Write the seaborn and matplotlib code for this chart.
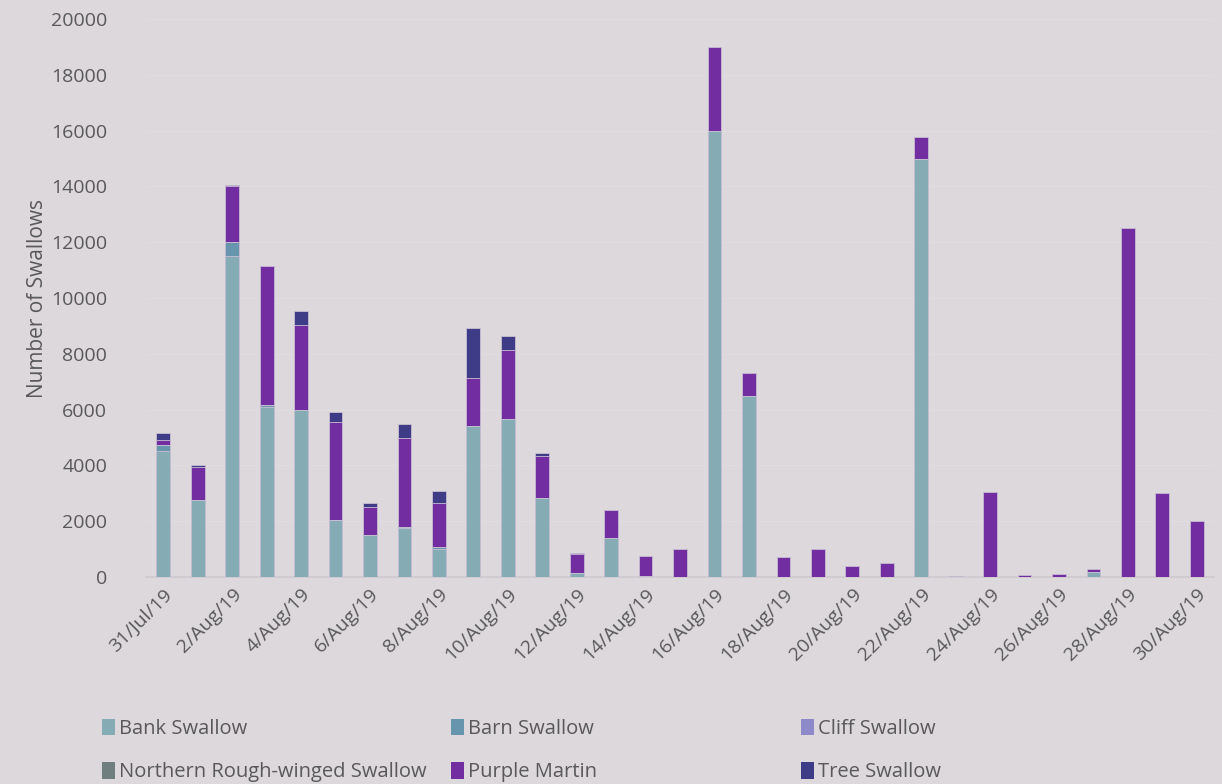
import numpy as np
import pandas as pd
import matplotlib
matplotlib.use("Agg")
import matplotlib.pyplot as plt
import seaborn as sns
from matplotlib.patches import Patch

# dates 31/Jul/19 .. 30/Aug/19
dates = ["31/Jul/19"] + [f"{d}/Aug/19" for d in range(1, 31)]

bank     = [4500, 2750, 11500, 6100, 6000, 2050, 1500, 1750, 1000, 5400, 5650, 2850, 130, 1400, 50, 0,
            16000, 6500, 0, 0, 0, 0, 15000, 20, 0, 0, 0, 190, 0, 0, 0]
barn     = [250, 0, 500, 50, 0, 0, 0, 50, 60, 0, 0, 0, 0, 0, 0, 0,
            0, 0, 0, 0, 0, 0, 0, 0, 0, 0, 0, 0, 0, 0, 0]
cliff    = [0] * 31
northern = [0] * 31
purple   = [150, 1200, 2000, 5000, 3050, 3500, 1000, 3200, 1580, 1750, 2500, 1500, 680, 1000, 720, 1000,
            3000, 800, 700, 1000, 400, 500, 760, 0, 3030, 60, 120, 80, 12500, 3000, 2000]
tree     = [250, 50, 50, 0, 500, 350, 150, 500, 450, 1780, 500, 80, 50, 0, 0, 0,
            0, 0, 0, 0, 0, 0, 0, 0, 0, 0, 0, 0, 0, 0, 0]

species = ["Bank Swallow", "Barn Swallow", "Cliff Swallow",
           "Northern Rough-winged Swallow", "Purple Martin", "Tree Swallow"]
colors = ["#85abb5", "#6795ad", "#8e89c9", "#6f7f7f", "#722ea0", "#3f3c87"]

df = pd.DataFrame({"date": dates, "Bank Swallow": bank, "Barn Swallow": barn,
                   "Cliff Swallow": cliff, "Northern Rough-winged Swallow": northern,
                   "Purple Martin": purple, "Tree Swallow": tree})

bg = "#dcd8dc"
txt = "#595959"
sns.set_theme(style="white")
plt.rcParams["font.family"] = ["Open Sans", "DejaVu Sans"]

fig = plt.figure(figsize=(12.22, 7.84), dpi=100, facecolor=bg)
ax = fig.add_axes([0.1195, 0.264, 0.874, 0.7117])
ax.set_facecolor(bg)

# stacked bars: draw cumulative totals from the top series down
cum = df[species].cumsum(axis=1)
for sp, col in reversed(list(zip(species, colors))):
    sns.barplot(x=df["date"], y=cum[sp], color=col, width=0.4, saturation=1,
                edgecolor="#c9bfd3", linewidth=0.6, ax=ax, zorder=3)

ax.set_ylim(0, 20000)
ax.set_xlim(-0.5, 30.5)
ax.set_yticks(np.arange(0, 20001, 2000))
ax.grid(axis="y", color="#e0dde0", linewidth=1, zorder=0)

ax.set_xticks(range(31))
ax.set_xticklabels([d if i % 2 == 0 else "" for i, d in enumerate(dates)],
                   rotation=45, ha="right", rotation_mode="anchor",
                   fontsize=14, color=txt)
ax.tick_params(axis="x", length=0, pad=6)
ax.set_xticks(np.arange(-0.5, 31, 2), minor=True)
ax.tick_params(axis="x", which="minor", length=5, color="#cfcacf", width=1)
ax.tick_params(axis="y", length=0, labelsize=14, labelcolor=txt, pad=28)

for s in ["top", "right", "left"]:
    ax.spines[s].set_visible(False)
ax.spines["bottom"].set_color("#cfcacf")

ax.set_xlabel("")
ax.set_ylabel("Number of Swallows", fontsize=15, color=txt, labelpad=2)

# legend: three equal-width columns, two rows (Excel style)
handles = [Patch(facecolor=c, edgecolor="none") for c in colors]
col_x = [98 / 1222, 447 / 1222, 797 / 1222]
for j, x0 in enumerate(col_x):
    idx = [j, j + 3]
    fig.legend([handles[i] for i in idx], [species[i] for i in idx],
               loc="lower left", bbox_to_anchor=(x0 - 0.008, -0.016), ncol=1, frameon=False,
               fontsize=14.5, labelcolor=txt, handlelength=0.65, handleheight=0.9,
               handletextpad=0.2, labelspacing=1.15, borderaxespad=0.3)

fig.savefig("out.png", dpi=100, facecolor=bg)
